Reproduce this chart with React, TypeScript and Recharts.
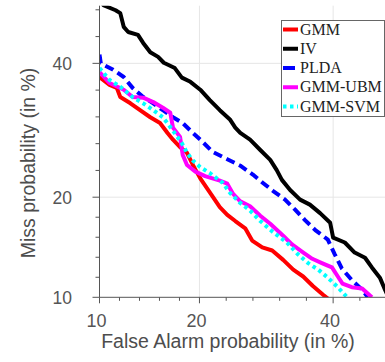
import React from "react";
import { LineChart, Line, XAxis, YAxis, ReferenceLine, Legend } from "recharts";

// DET curves, values in % : false alarm (x) and miss (y)
const gmmFa = [10.0, 10.8, 11.4, 11.7, 12.6, 13.5, 14.5, 15.5, 16.3, 16.9, 17.7, 18.5, 19.2, 20.1, 21.3, 22.6, 23.6, 24.7, 26.1, 27.1, 28.6, 30.1, 31.8, 33.4, 35.0, 36.6, 38.3, 39.1];
const gmmMiss = [37.7, 36.4, 35.9, 34.4, 33.4, 32.3, 31.2, 30.3, 28.8, 27.8, 26.7, 25.9, 24.2, 22.4, 20.6, 18.8, 17.9, 17.2, 16.4, 15.1, 14.4, 14.1, 13.2, 12.3, 11.7, 10.9, 10.2, 9.9];

const ivFa = [10.1, 10.3, 11.3, 11.7, 12.0, 12.4, 13.3, 13.8, 14.5, 15.3, 15.9, 17.1, 17.9, 18.9, 20.1, 21.3, 22.6, 24.0, 24.7, 25.4, 26.8, 28.3, 29.8, 30.8, 31.6, 32.9, 34.5, 36.1, 37.8, 39.5, 40.0, 42.0, 43.7, 45.5, 46.7, 48.1, 49.0, 49.6];
const ivMiss = [50.9, 50.1, 49.2, 48.7, 46.3, 45.4, 44.9, 43.5, 41.9, 41.1, 40.1, 39.2, 37.6, 36.9, 35.6, 33.9, 32.3, 30.8, 29.6, 28.8, 27.8, 26.3, 24.9, 23.5, 22.2, 20.9, 19.7, 19.1, 18.1, 17.0, 15.4, 14.9, 13.9, 13.4, 12.5, 11.6, 10.6, 10.0];

const pldaFa = [10.0, 10.1, 11.1, 12.0, 12.8, 13.8, 14.8, 15.8, 16.9, 18.0, 19.2, 20.1, 21.7, 23.6, 25.4, 27.2, 28.7, 30.2, 32.1, 33.7, 35.3, 37.0, 39.1, 40.3, 41.5, 43.2, 45.0, 46.0];
const pldaMiss = [41.5, 40.0, 38.9, 37.7, 35.9, 34.4, 33.4, 32.3, 31.2, 30.3, 28.8, 27.8, 26.0, 25.0, 24.1, 22.9, 21.8, 20.8, 19.7, 18.5, 17.3, 16.2, 15.2, 13.7, 12.4, 11.4, 10.6, 10.0];

const ubmFa = [10.0, 10.8, 12.0, 12.8, 13.8, 14.8, 15.8, 16.6, 16.9, 17.7, 18.0, 18.5, 19.5, 20.7, 22.6, 23.6, 24.4, 25.4, 26.8, 28.3, 29.8, 31.8, 33.2, 34.8, 36.5, 38.1, 39.8, 40.8, 41.6, 43.2, 45.0, 46.7];
const ubmMiss = [38.5, 36.7, 35.6, 34.4, 34.3, 33.6, 32.7, 31.9, 29.6, 28.2, 25.6, 24.2, 23.3, 22.7, 22.1, 21.7, 20.4, 19.5, 18.9, 17.8, 16.9, 15.6, 14.7, 14.0, 13.3, 12.9, 12.5, 11.7, 11.1, 10.8, 10.7, 10.0];

const svmFa = [10.0, 10.8, 11.7, 12.8, 13.8, 14.8, 15.8, 16.6, 17.4, 17.9, 18.5, 19.2, 20.1, 21.3, 23.0, 24.0, 25.4, 26.8, 28.3, 30.2, 32.4, 34.2, 35.8, 37.5, 39.1, 40.8, 42.4];
const svmMiss = [39.2, 37.2, 36.1, 34.4, 33.4, 32.3, 31.2, 29.7, 28.2, 27.3, 25.9, 24.8, 23.9, 23.1, 21.8, 20.5, 19.3, 18.4, 17.2, 16.0, 14.9, 13.7, 12.9, 12.3, 11.6, 10.8, 10.0];

const majorTicks = [10, 20, 40];
const xMax = 49;
const yMax = 50;

// inverse normal cdf (Acklam)
function probit(p: number): number {
  const a = [-39.69683028665376, 220.9460984245205, -275.9285104469687, 138.357751867269, -30.66479806614716, 2.506628277459239];
  const b = [-54.47609879822406, 161.5858368580409, -155.6989798598866, 66.80131188771972, -13.28068155288572];
  const c = [-0.007784894002430293, -0.3223964580411365, -2.400758277161838, -2.549732539343734, 4.374664141464968, 2.938163982698783];
  const d = [0.007784695709041462, 0.3224671290700398, 2.445134137142996, 3.754408661907416];
  const plow = 0.02425;
  if (p < plow) {
    const q = Math.sqrt(-2 * Math.log(p));
    return (((((c[0] * q + c[1]) * q + c[2]) * q + c[3]) * q + c[4]) * q + c[5]) / ((((d[0] * q + d[1]) * q + d[2]) * q + d[3]) * q + 1);
  }
  if (p > 1 - plow) {
    const q = Math.sqrt(-2 * Math.log(1 - p));
    return -(((((c[0] * q + c[1]) * q + c[2]) * q + c[3]) * q + c[4]) * q + c[5]) / ((((d[0] * q + d[1]) * q + d[2]) * q + d[3]) * q + 1);
  }
  const q = p - 0.5;
  const r = q * q;
  return ((((((a[0] * r + a[1]) * r + a[2]) * r + a[3]) * r + a[4]) * r + a[5]) * q) / (((((b[0] * r + b[1]) * r + b[2]) * r + b[3]) * r + b[4]) * r + 1);
}

const toPoints = (fa: number[], miss: number[]) =>
  fa.map((f, i) => ({ x: probit(f / 100), y: probit(miss[i] / 100) }));

const series = [
  { name: "GMM", data: toPoints(gmmFa, gmmMiss), color: "#ff0000", dash: undefined },
  { name: "IV", data: toPoints(ivFa, ivMiss), color: "#000000", dash: undefined },
  { name: "PLDA", data: toPoints(pldaFa, pldaMiss), color: "#0000ff", dash: "9 5" },
  { name: "GMM-UBM", data: toPoints(ubmFa, ubmMiss), color: "#ff00ff", dash: undefined },
  { name: "GMM-SVM", data: toPoints(svmFa, svmMiss), color: "#00ffff", dash: "3.5 3.5" },
];

const majorZ = majorTicks.map((t) => ({ z: probit(t / 100), label: String(t) }));

// minor ticks: five steps between majors, continued past the last one
function buildTicks(maxZ: number) {
  const out: number[] = [];
  for (let i = 0; i < majorZ.length - 1; i++) {
    const step = (majorZ[i + 1].z - majorZ[i].z) / 5;
    for (let k = 0; k < 5; k++) out.push(majorZ[i].z + k * step);
  }
  const last = majorZ[majorZ.length - 1].z;
  const step = (last - majorZ[majorZ.length - 2].z) / 5;
  for (let v = last; v <= maxZ + 1e-9; v += step) out.push(v);
  return out;
}

const xDomain = [probit(0.1), probit(xMax / 100)];
const yDomain = [probit(0.1), probit(yMax / 100)];
const xTicks = buildTicks(xDomain[1]);
const yTicks = buildTicks(yDomain[1]);

const axisColor = "#555555";
const sans = "'Liberation Sans', Arial, Helvetica, sans-serif";
const serif = "'Liberation Serif', 'Times New Roman', serif";

const findMajor = (v: number) => majorZ.find((m) => Math.abs(m.z - v) < 1e-6);

const XTick = (props: any) => {
  const { x, y, payload } = props;
  const major = findMajor(payload.value);
  return (
    <g>
      <line x1={x} x2={x} y1={y} y2={y + (major ? 6 : 3.5)} stroke={axisColor} strokeWidth={1} />
      {major && (
        <text x={x - 3} y={y + 29.5} textAnchor="middle" fontSize={18} fontFamily={sans} fill="#555">
          {major.label}
        </text>
      )}
    </g>
  );
};

const YTick = (props: any) => {
  const { x, y, payload } = props;
  const major = findMajor(payload.value);
  return (
    <g>
      <line x1={x} x2={x - (major ? 7 : 4)} y1={y} y2={y} stroke={axisColor} strokeWidth={1} />
      {major && (
        <text x={x - 27.5} y={y + 6.5} textAnchor="end" fontSize={17.5} fontFamily={sans} fill="#555">
          {major.label}
        </text>
      )}
    </g>
  );
};

const LegendBox = () => (
  <svg width={104} height={98} style={{ display: "block" }}>
    <rect x={0.5} y={0.5} width={103} height={96} fill="#ffffff" stroke="#666666" strokeWidth={1} />
    {series.map((s, i) => {
      const cy = 9.5 + i * 19.25;
      return (
        <g key={s.name}>
          <line x1={2} x2={17} y1={cy} y2={cy} stroke={s.color} strokeWidth={4} strokeDasharray={s.dash ? (s.name === "GMM-SVM" ? "3.5 3.5" : "12 3") : undefined} />
          <text x={19} y={cy + 5} fontSize={16} fontFamily={serif} fill="#222">
            {s.name}
          </text>
        </g>
      );
    })}
  </svg>
);

const App: React.FC = () => {
  return (
    <div style={{ position: "absolute", left: 0, top: 0, width: 385, height: 362, background: "#fff" }}>
      <LineChart width={385} height={362} margin={{ top: 5.7, right: 0, left: 39.5, bottom: 34.7 }}>
        <XAxis
          type="number"
          dataKey="x"
          domain={xDomain}
          ticks={xTicks}
          interval={0}
          allowDataOverflow
          height={30}
          tickSize={0}
          tickMargin={0}
          tick={<XTick />}
          axisLine={{ stroke: axisColor }}
          tickLine={false}
          label={{
            content: () => (
              <text x={228} y={348} textAnchor="middle" fontSize={19.5} fontFamily={sans} fill="#4d4d4d">
                False Alarm probability (in %)
              </text>
            ),
          }}
        />
        <YAxis
          type="number"
          dataKey="y"
          domain={yDomain}
          ticks={yTicks}
          interval={0}
          allowDataOverflow
          width={60}
          tickSize={0}
          tickMargin={0}
          tick={<YTick />}
          axisLine={{ stroke: axisColor }}
          tickLine={false}
          label={{
            content: () => (
              <text transform="translate(35,163) rotate(-90)" textAnchor="middle" fontSize={19.5} fontFamily={sans} fill="#4d4d4d">
                Miss probability (in %)
              </text>
            ),
          }}
        />
        {majorZ.slice(1).map((m) => (
          <ReferenceLine key={"vx" + m.label} x={m.z} stroke="#e6e6e6" strokeWidth={1} />
        ))}
        {majorZ.slice(1).map((m) => (
          <ReferenceLine key={"hy" + m.label} y={m.z} stroke="#e6e6e6" strokeWidth={1} />
        ))}
        {series.map((s) => (
          <Line
            key={s.name}
            data={s.data}
            dataKey="y"
            name={s.name}
            type="linear"
            stroke={s.color}
            strokeWidth={4}
            strokeDasharray={s.dash}
            strokeLinejoin="round"
            dot={false}
            activeDot={false}
            isAnimationActive={false}
          />
        ))}
        <Legend
          layout="horizontal"
          verticalAlign="middle"
          align="center"
          wrapperStyle={{ position: "absolute", left: 281, top: 20, width: 104, height: 98 }}
          content={() => <LegendBox />}
        />
      </LineChart>
    </div>
  );
};

export default App;
